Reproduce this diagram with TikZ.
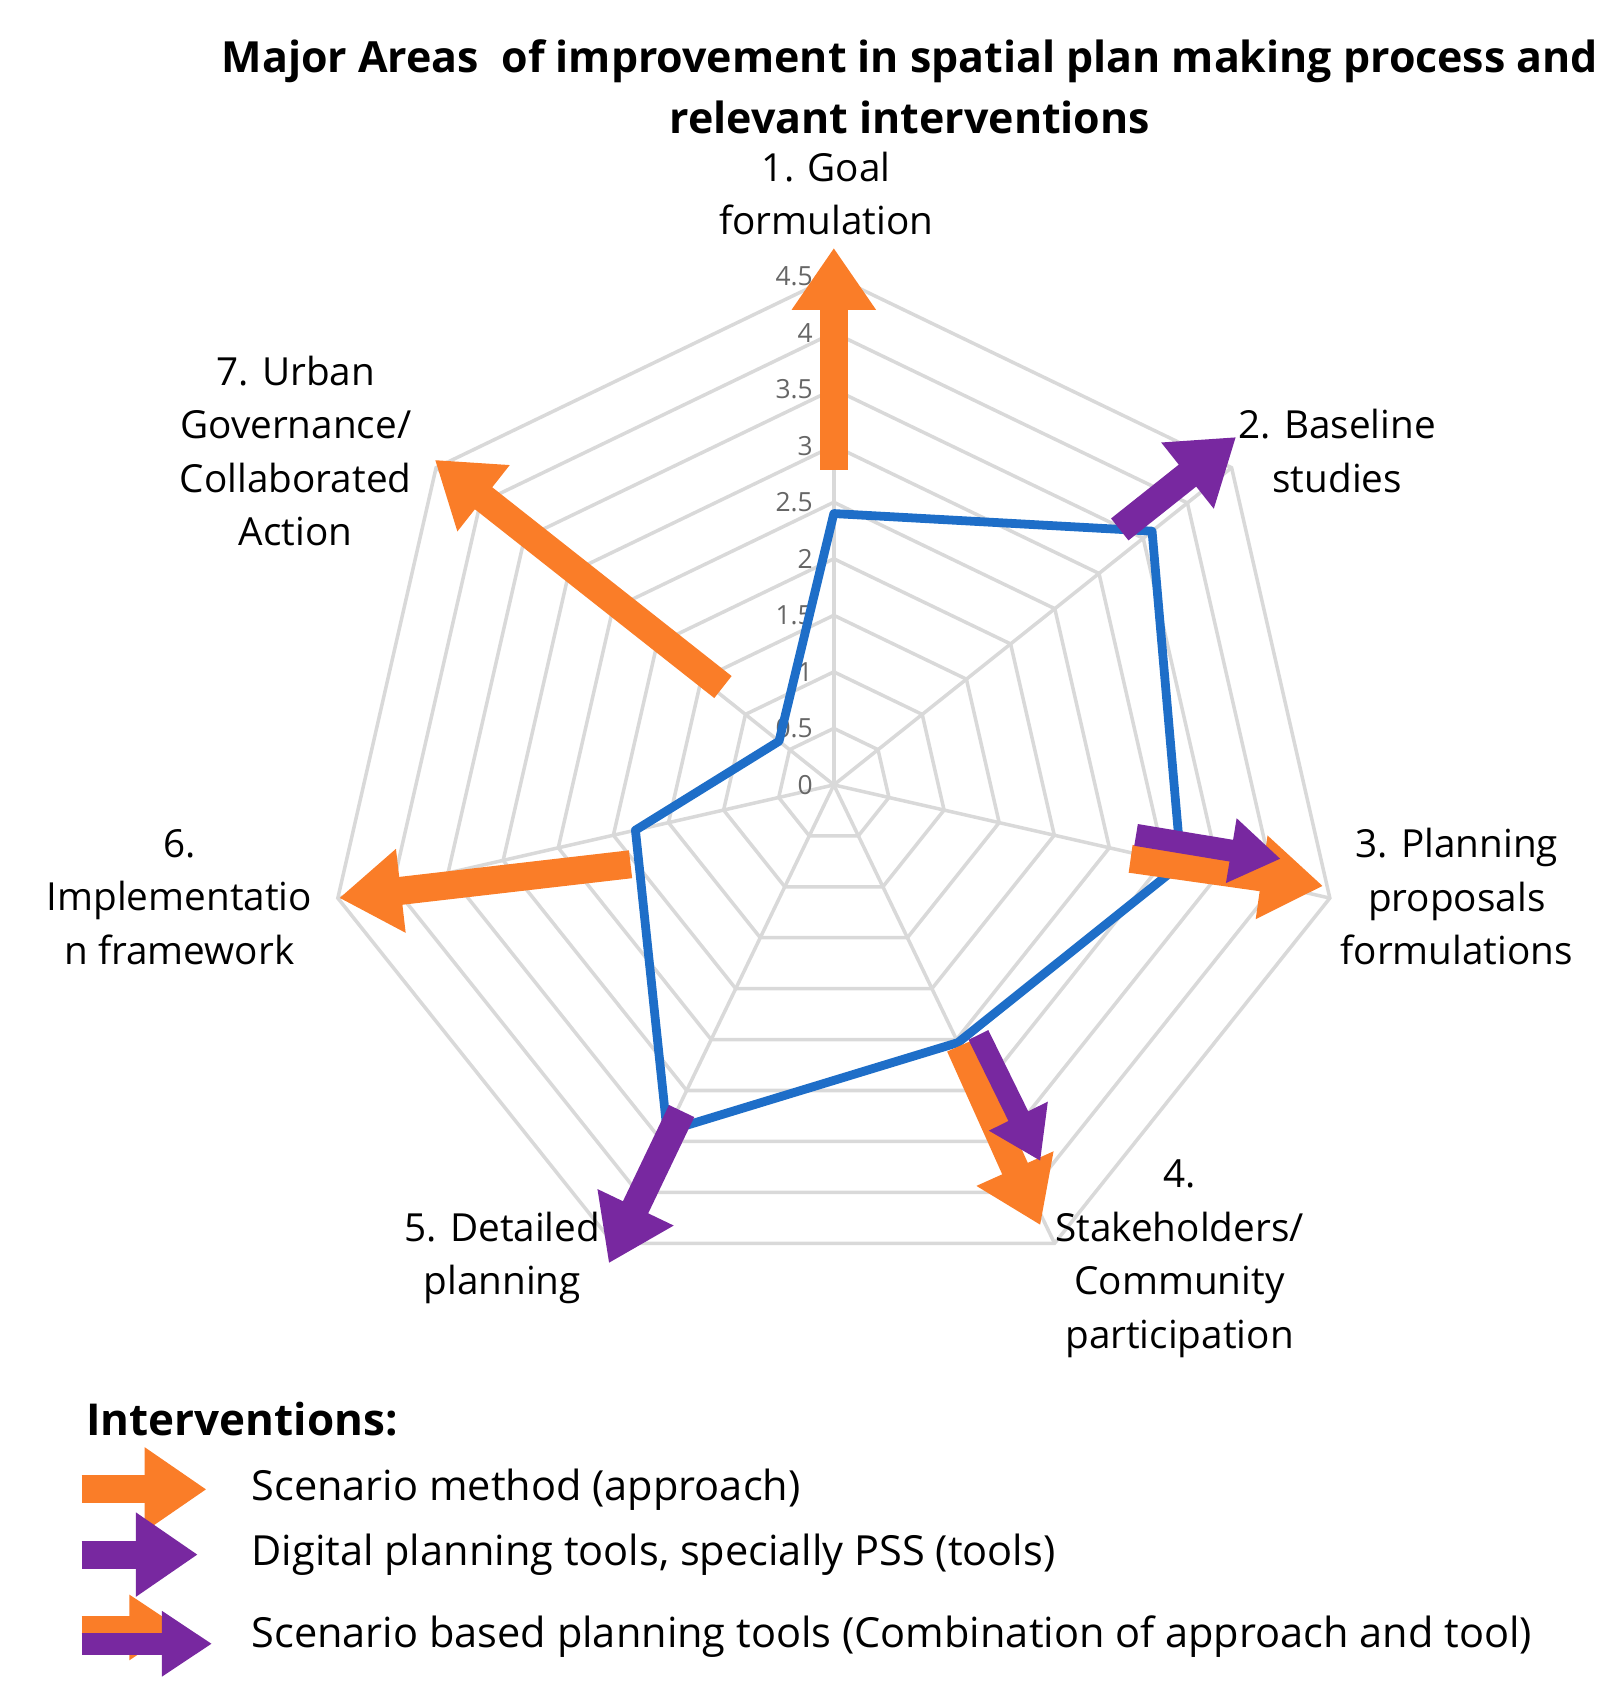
\documentclass[tikz,border=0pt]{standalone}
\usepackage{fontspec}
\setmainfont{Open Sans}
\usetikzlibrary{positioning,arrows.meta}

\definecolor{scenOrange}{RGB}{250,125,40}
\definecolor{toolPurple}{RGB}{120,40,160}
\definecolor{dataBlue}{RGB}{30,110,200}

\tikzset{
  axislabel/.style={align=center,font=\fontsize{11}{15.2}\selectfont},
  ticklabel/.style={font=\fontsize{7.5}{8}\selectfont,text=black!60},
  bigarrow/.style={line width=0.28cm,-{Triangle[length=0.62cm,width=0.8cm]}},
  smallarrow/.style={line width=0.22cm,-{Triangle[length=0.5cm,width=0.62cm]}},
}

\begin{document}
\begin{tikzpicture}[x=0.01087cm,y=-0.01087cm]

	\useasboundingbox (0,0) rectangle (1492,1561);

	% Grid of the radar
	\coordinate (center) at (767,722);
	\begin{scope}[shift={(center)},y=0.01087cm]
		\foreach \r in {0.5,1,...,4.5} {
			\draw[black!15,line width=1pt]
				(90:\r*104) \foreach \k in {1,...,6} { -- ({90-\k*360/7}:\r*104) } -- cycle;
		}
		\foreach \k in {0,...,6}
			\draw[black!15,line width=1pt] (0,0) -- ({90-\k*360/7}:468);
		\foreach \v/\t in {0/0,1/0.5,2/1,3/1.5,4/2,5/2.5,6/3,7/3.5,8/4,9/4.5}
			\node[ticklabel,left] (tick\v) at (-8,\v*52) {\t};

		% Data line
		\draw[dataBlue,line width=2.5pt,line join=round]
			(90:2.4*104) -- (38.57:3.6*104) -- (-12.86:3.15*104) -- (-64.29:2.53*104)
			-- (-115.71:3.4*104) -- (-167.14:1.8*104) -- (141.43:0.62*104) -- cycle;
	\end{scope}

	% Interventions
	\coordinate (a1s) at (767,432);  \coordinate (a1e) at (767,228);
	\coordinate (a2s) at (1030,487); \coordinate (a2e) at (1137,402);
	\coordinate (a3s) at (1040,790); \coordinate (a3e) at (1217,815);
	\coordinate (b3s) at (1045,768); \coordinate (b3e) at (1178,790);
	\coordinate (a4s) at (883,962);  \coordinate (a4e) at (957,1127);
	\coordinate (b4s) at (900,952);  \coordinate (b4e) at (957,1068);
	\coordinate (a5s) at (627,1022); \coordinate (a5e) at (560,1162);
	\coordinate (a6s) at (580,795);  \coordinate (a6e) at (312,826);
	\coordinate (a7s) at (665,632);  \coordinate (a7e) at (400,423);

	\draw[bigarrow,scenOrange] (a1s) -- (a1e);
	\draw[bigarrow,toolPurple] (a2s) -- (a2e);
	\draw[bigarrow,scenOrange] (a3s) -- (a3e);
	\draw[smallarrow,toolPurple] (b3s) -- (b3e);
	\draw[bigarrow,scenOrange] (a4s) -- (a4e);
	\draw[smallarrow,toolPurple] (b4s) -- (b4e);
	\draw[bigarrow,toolPurple] (a5s) -- (a5e);
	\draw[bigarrow,scenOrange] (a6s) -- (a6e);
	\draw[bigarrow,scenOrange] (a7s) -- (a7e);

	% Title and axis labels
	\node[align=center,font=\fontsize{12.2}{17.5}\selectfont\bfseries] (title) at (837,80)
		{Major Areas\ \ of improvement in spatial plan making process and\\relevant interventions};
	\node[axislabel] (lab1) at (760,178) {1. Goal\\formulation};
	\node[axislabel] (lab2) at (1230,415) {2. Baseline\\studies};
	\node[axislabel] (lab3) at (1340,825) {3. Planning\\proposals\\formulations};
	\node[axislabel] (lab4) at (1085,1158) {4.\\Stakeholders/\\Community\\participation};
	\node[axislabel] (lab5) at (462,1157) {5. Detailed\\planning};
	\node[axislabel] (lab6) at (165,825) {6.\\Implementatio\\n framework};
	\node[axislabel] (lab7) at (272,415) {7. Urban\\Governance/\\Collaborated\\Action};

	% Legend
	\node[font=\fontsize{12.5}{15}\selectfont\bfseries,anchor=west] (legtitle) at (68,1305) {Interventions:};
	\coordinate (l1s) at (75,1370);  \coordinate (l1e) at (190,1370);
	\coordinate (l2s) at (75,1430);  \coordinate (l2e) at (182,1430);
	\coordinate (l3s) at (75,1497);  \coordinate (l3e) at (165,1497);
	\coordinate (l4s) at (75,1512);  \coordinate (l4e) at (195,1512);
	\draw[bigarrow,scenOrange] (l1s) -- (l1e);
	\draw[bigarrow,toolPurple] (l2s) -- (l2e);
	\draw[smallarrow,scenOrange] (l3s) -- (l3e);
	\draw[smallarrow,toolPurple] (l4s) -- (l4e);
	\node[font=\fontsize{11.8}{14}\selectfont,anchor=west] (leg1) at (220,1370) {Scenario method (approach)};
	\node[font=\fontsize{11.8}{14}\selectfont,anchor=west] (leg2) at (220,1430) {Digital planning tools, specially PSS (tools)};
	\node[font=\fontsize{11.8}{14}\selectfont,anchor=west] (leg3) at (220,1505) {Scenario based planning tools (Combination of approach and tool)};

\end{tikzpicture}
\end{document}
